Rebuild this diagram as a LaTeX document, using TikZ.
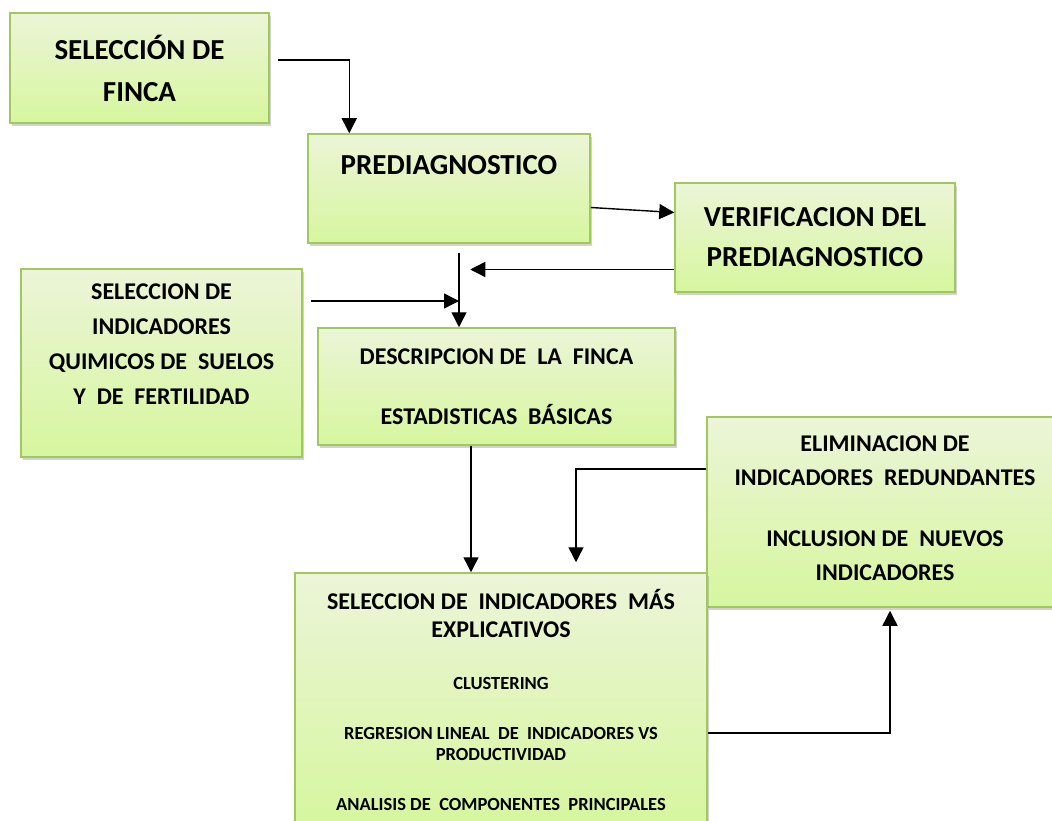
\documentclass[tikz,border=0pt]{standalone}
\usepackage{fontspec}
\setmainfont{Carlito}
\usepackage{tikz}
\usetikzlibrary{arrows.meta,shadows}
\definecolor{stageTop}{RGB}{236,245,216}
\definecolor{stageBottom}{RGB}{214,246,158}
\definecolor{stageLine}{RGB}{160,200,95}
\tikzset{
  stage/.style={draw=stageLine,line width=1.5pt,
    top color=stageTop,bottom color=stageBottom,
    drop shadow={shadow xshift=2pt,shadow yshift=-3pt,opacity=0.35},
    inner sep=0pt,align=flush center},
  flow/.style={line width=1.4pt,-{Triangle[width=15pt,length=15pt]}},
}

\begin{document}
\begin{tikzpicture}[x=1pt,y=-1pt]
\useasboundingbox (0,0) rectangle (1052,821);
\fill[white] (0,0) rectangle (1052,821);
\clip (0,0) rectangle (1052,821);

\node[stage,minimum width=259pt,minimum height=110pt,text width=259pt,
  font=\fontsize{29}{42}\selectfont\bfseries] (sel) at (139.5,68)
  {SELECCIÓN DE\\FINCA};
\node[stage,minimum width=282pt,minimum height=109pt,text width=282pt,
  font=\fontsize{29}{42}\selectfont\bfseries] (pre) at (449,188.5)
  {PREDIAGNOSTICO\\[5pt]\mbox{}};
\node[stage,minimum width=280pt,minimum height=109pt,text width=280pt,
  font=\fontsize{29}{40}\selectfont\bfseries] (ver) at (815,237.5)
  {VERIFICACION DEL\\PREDIAGNOSTICO};
\node[stage,minimum width=281pt,minimum height=188pt,text width=281pt,
  font=\fontsize{24}{35}\selectfont\bfseries] (ind) at (161.5,363)
  {SELECCION DE\\INDICADORES\\QUIMICOS DE~~SUELOS\\Y~~DE~~FERTILIDAD\\[2pt]\mbox{}};
\node[stage,minimum width=357pt,minimum height=117pt,text width=357pt,
  font=\fontsize{24}{30}\selectfont\bfseries] (des) at (496.5,386.5)
  {DESCRIPCION DE~~LA~~FINCA\\[30pt]ESTADISTICAS~~BÁSICAS};
\node[stage,minimum width=356pt,minimum height=190pt,text width=356pt,
  font=\fontsize{24}{34}\selectfont\bfseries] (eli) at (885,512)
  {ELIMINACION DE\\INDICADORES~~REDUNDANTES\\[27pt]INCLUSION DE~~NUEVOS\\INDICADORES\\[-26pt]\mbox{}};
\node[stage,minimum width=412pt,minimum height=254pt,text width=412pt,
  font=\bfseries] (mas) at (501,700)
  {{\fontsize{24}{28}\selectfont SELECCION DE~~INDICADORES~~MÁS\\EXPLICATIVOS\par}%
   \vspace{31pt}%
   {\fontsize{18.5}{21}\selectfont CLUSTERING\\[29pt]REGRESION LINEAL~~DE~~INDICADORES VS\\PRODUCTIVIDAD\\[29pt]ANALISIS DE~~COMPONENTES~~PRINCIPALES\par}};

% connectors
\draw[flow] ([shift={(8pt,8pt)}]sel.east) -| ([xshift=42pt]pre.north west);
\draw[flow] ([yshift=-19pt]pre.east) -- ([yshift=25pt]ver.west);
\draw[flow] ([yshift=-32pt]ver.west) -- ++(-204,0);
\draw[flow] ([shift={(10pt,-9pt)}]pre.south) coordinate (jn) -- (jn |- des.north);
\draw[flow] ([shift={(8pt,62pt)}]ind.east) coordinate (q) -- (q -| jn);
\draw[flow] ([xshift=-25.5pt]des.south) -- ([xshift=-25.5pt]des.south |- mas.north);
\draw[flow] ([yshift=43pt]eli.west) -| ([shift={(75pt,10pt)}]mas.north);
\draw[flow] ([yshift=-33pt]mas.east) -| ([shift={(5pt,-3pt)}]eli.south);
\end{tikzpicture}
\end{document}
